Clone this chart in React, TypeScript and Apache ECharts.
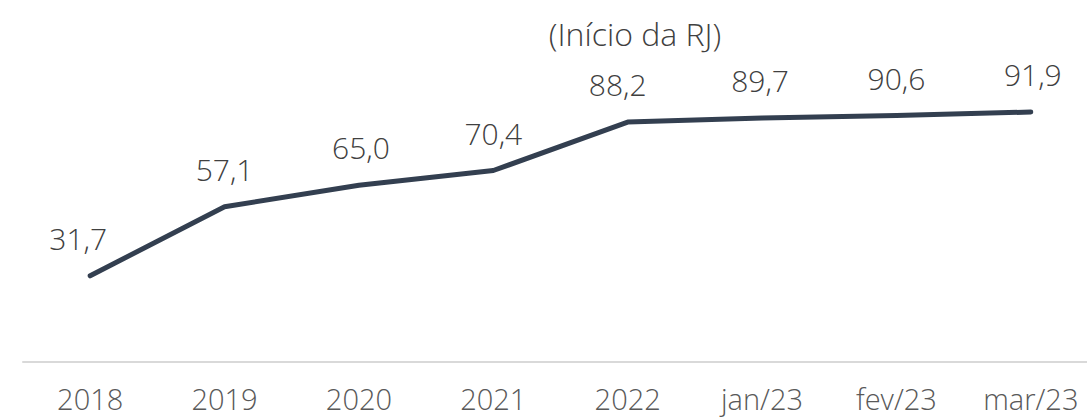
import React, { useEffect, useRef } from "react";
import * as echarts from "echarts";

const categories = ["2018", "2019", "2020", "2021", "2022", "jan/23", "fev/23", "mar/23"];
const values = [31.7, 57.1, 65.0, 70.4, 88.2, 89.7, 90.6, 91.9];
const labelOffsets: number[][] = [[-12, 0], [0, 0], [2, 0], [0, 0], [-10, 0], [-2, 0], [0, 0], [2, 0]];
const titleText = "(Início da RJ)";

const FONT = "'Open Sans', 'DejaVu Sans', sans-serif";

export default function App() {
  const ref = useRef<HTMLDivElement>(null);
  useEffect(() => {
    if (!ref.current) return;
    const chart = echarts.init(ref.current, null, { renderer: "svg" });
    chart.setOption({
      animation: false,
      backgroundColor: "#ffffff",
      title: {
        text: titleText,
        left: 630,
        top: 12,
        textAlign: "center",
        textStyle: { fontFamily: FONT, fontSize: 32, fontWeight: 300, color: "#404040" },
      },
      grid: { left: 23, top: 90, width: 1075, height: 272, outerBoundsMode: "none", containLabel: false },
      xAxis: {
        type: "category",
        data: categories,
        boundaryGap: true,
        axisLine: { show: true, lineStyle: { color: "#d9d9d9", width: 2 } },
        axisTick: { show: false },
        axisLabel: {
          color: "#595959",
          fontFamily: FONT,
          fontSize: 29,
          fontWeight: 300,
          margin: 22,
          lineHeight: 28,
          interval: 0,
        },
      },
      yAxis: {
        type: "value",
        min: 0,
        max: 100,
        show: false,
        splitLine: { show: false },
      },
      series: [
        {
          type: "line",
          data: values.map((v, i) => ({
            value: v,
            label: { offset: labelOffsets[i] },
          })),
          symbol: "circle",
          symbolSize: 1,
          showSymbol: true,
          itemStyle: { color: "#333f50", opacity: 0 },
          lineStyle: { color: "#333f50", width: 5, cap: "round", join: "round" },
          label: {
            show: true,
            position: "top",
            distance: 22,
            fontFamily: FONT,
            fontSize: 30,
            fontWeight: 300,
            color: "#404040",
            opacity: 1,
            formatter: (p: any) => p.value.toFixed(1).replace(".", ","),
          },
        },
      ],
    });
    return () => chart.dispose();
  }, []);
  return (
    <div
      ref={ref}
      style={{ position: "absolute", left: 0, top: 0, width: 1087, height: 418 }}
    />
  );
}
